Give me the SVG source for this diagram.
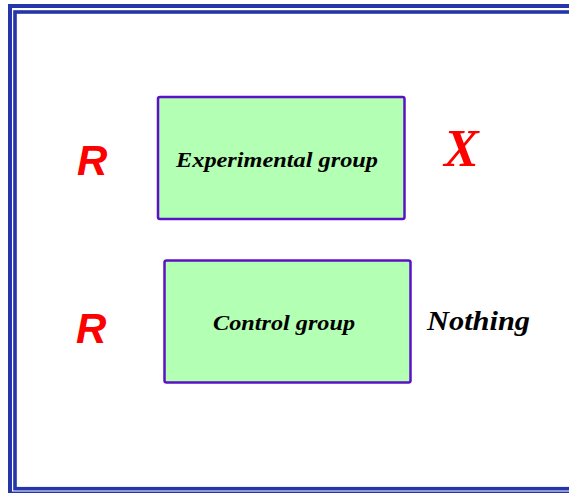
<svg xmlns="http://www.w3.org/2000/svg" width="569" height="493" viewBox="0 0 569 493">
<style>
.frame{fill:none;stroke:#2535aa;stroke-width:4}
.box{fill:#b3ffb3;stroke:#5b12c4;stroke-width:2.5}
.lbl{font-family:"Liberation Serif",serif;font-weight:bold;font-style:italic;fill:#000}
.r{font-family:"Liberation Sans",sans-serif;font-weight:bold;font-style:italic;fill:#ff0000;font-size:42px}
</style>
<rect width="569" height="493" fill="#ffffff"/>
<g id="frame">
<rect class="frame" x="10" y="6" width="600" height="487.5"/>
<rect class="frame" x="15" y="12" width="600" height="476.7" style="stroke-width:3.6"/>
</g>
<g id="r1"><text class="r" x="77" y="175">R</text></g>
<g id="experimental">
<rect class="box" x="158" y="97" width="246.5" height="122" rx="2"/>
<text class="lbl" x="176" y="167" font-size="22" textLength="202" lengthAdjust="spacingAndGlyphs">Experimental group</text>
</g>
<g id="x"><text x="444" y="166" font-family="Liberation Serif,serif" font-weight="bold" font-style="italic" font-size="52" fill="#ff0000">X</text></g>
<g id="r2"><text class="r" x="76" y="343">R</text></g>
<g id="control">
<rect class="box" x="164.5" y="260.5" width="246" height="122" rx="2"/>
<text class="lbl" x="213" y="330" font-size="22" textLength="142" lengthAdjust="spacingAndGlyphs">Control group</text>
</g>
<g id="nothing"><text class="lbl" x="427" y="330" font-size="28" textLength="103" lengthAdjust="spacingAndGlyphs">Nothing</text></g>
<g id="connectors"/>
</svg>
